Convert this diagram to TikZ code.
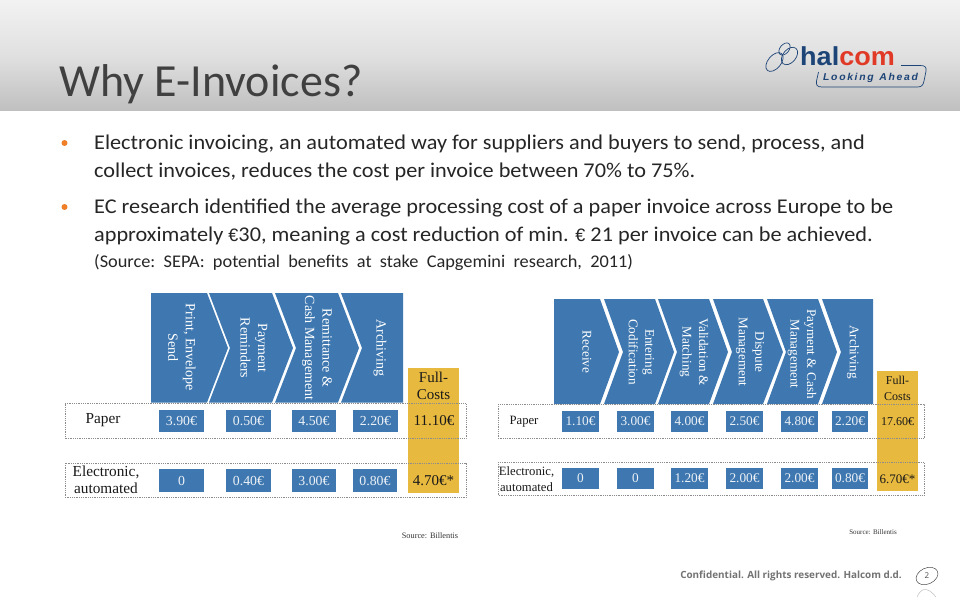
\documentclass[tikz,border=0pt]{standalone}
\usepackage{fontspec}
\setmainfont{Carlito}
\newfontfamily\bodyf[FakeStretch=1.06]{Carlito}
\newfontfamily\srcf[FakeStretch=1.03]{Carlito}
\newfontfamily\eurof{Liberation Sans}
\newfontfamily\seriff{Liberation Serif}
\newfontfamily\logof[FakeStretch=1.04]{Liberation Sans}
\newfontfamily\footf{Open Sans}
\usetikzlibrary{shapes.geometric}
\definecolor{chartblue}{HTML}{3F78B0}
\definecolor{chartgold}{HTML}{E8B93F}
\definecolor{titlegrey}{HTML}{404040}
\definecolor{bodytext}{HTML}{262626}
\definecolor{bulletor}{HTML}{F07F2A}
\definecolor{logoblue}{HTML}{1D4477}
\definecolor{logored}{HTML}{E03A26}
\tikzset{
 x=1pt,y=-1pt,
 bodyline/.style={anchor=base west,inner sep=0pt,text=bodytext,font=\bodyf\fontsize{21}{24}\selectfont},
 bulletdot/.style={circle,fill=bulletor,minimum size=6pt,inner sep=0pt},
 chev/.style={fill=chartblue,draw=none},
 chevlabel/.style={rotate=-90,text=white,align=center,font=\seriff\fontsize{14}{17.5}\selectfont,inner sep=0pt},
 chevlabelb/.style={rotate=-90,text=white,align=center,font=\seriff\fontsize{13.2}{16.5}\selectfont,inner sep=0pt},
 rowbox/.style={draw=black!45,densely dotted,line width=.8pt},
 val/.style={fill=chartblue,text=white!90!chartblue,inner sep=0pt,font=\seriff\fontsize{13.8}{15}\selectfont},
 valb/.style={fill=chartblue,text=white!90!chartblue,inner sep=0pt,font=\seriff\fontsize{13.3}{15}\selectfont},
 rowlabel/.style={text=black!90,align=center,inner sep=0pt,font=\seriff\fontsize{15.3}{17}\selectfont},
 rowlabelb/.style={text=black!90,align=center,inner sep=0pt,font=\seriff\fontsize{12.7}{16}\selectfont},
 goldtxt/.style={text=black!90,align=center,inner sep=0pt,font=\seriff\fontsize{15}{17}\selectfont},
 goldtxtb/.style={text=black!90,align=center,inner sep=0pt,font=\seriff\fontsize{12}{16}\selectfont},
 sourcetxt/.style={text=black!80,inner sep=0pt,font=\seriff\fontsize{8.3}{9}\selectfont},
 logoring/.style={draw=logoblue,line width=.7pt},
}
\newcommand{\chevshape}[7]{\fill[chev] (#1,#5) -- (#2,#5) -- (#3,#7) -- (#2,#6) -- (#1,#6) -- (#4,#7) -- cycle;}
\begin{document}
\begin{tikzpicture}
\useasboundingbox (0,0) rectangle (960,600);
\fill[white] (0,0) rectangle (960,600);
\shade[top color=black!5,bottom color=black!25,middle color=black!12] (0,0) rectangle (960,110.5);
\node[anchor=base west,inner sep=0pt,text=titlegrey,font=\fontsize{46}{50}\selectfont] (title) at (59,96.5) {Why E-Invoices?};
% logo
\draw[logoring,rotate around={50:(774.5,62)}] (774.5,62) ellipse [x radius=11,y radius=6.5];
\draw[logoring,rotate around={50:(784.5,49)}] (784.5,49) ellipse [x radius=7,y radius=4.5];
\draw[logoring,rotate around={50:(789.5,56)}] (789.5,56) ellipse [x radius=10,y radius=6.5];
\node[anchor=base west,inner sep=0pt,font=\logof\bfseries\fontsize{26}{28}\selectfont] (hal) at (800,65.7) {\textcolor{logoblue}{hal}\textcolor{logored}{com}};
\draw[logoblue,line width=.7pt] (901,65.5) -- (920,65.5) .. controls (925,65.5) and (926.5,67) .. (926,71) -- (924,81) .. controls (923,86) and (921,87) .. (917,87) -- (822,87) .. controls (817,87) and (816,85) .. (816.5,81) -- (818.5,72);
\node[anchor=base west,inner sep=0pt,text=logoblue,font=\logof\bfseries\itshape\fontsize{10}{12}\selectfont] (tag) at (823,80.5) {L\,o\,o\,k\,i\,n\,g\ \ A\,h\,e\,a\,d};
% bullets
\node[bulletdot] (b1) at (64.5,143) {};
\node[bulletdot] (b2) at (64.5,207) {};
\node[bodyline] (l1) at (94,149) {Electronic invoicing, an automated way for suppliers and buyers to send, process, and};
\node[bodyline] (l2) at (94,177) {collect invoices, reduces the cost per invoice between 70\% to 75\%.};
\node[bodyline] (l3) at (94,213) {EC research identified the average processing cost of a paper invoice across Europe to be};
\node[bodyline] (l4) at (94,241) {approximately {\eurof\fontsize{18}{24}\selectfont €}30, meaning a cost reduction of min. {\eurof\fontsize{18}{24}\selectfont €} 21 per invoice can be achieved.};
\node[bodyline,font=\srcf\fontsize{17.8}{20}\selectfont] (l5) at (94,267) {(Source:\ \ SEPA:\ \ potential\ \ benefits\ \ at\ \ stake\ \ Capgemini\ \ research,\ \ 2011)};
% left chart
\chevshape{151}{207}{228}{151}{293}{402.5}{348}
\chevshape{209}{272}{293}{230}{293}{402.5}{348}
\chevshape{275}{338}{359}{296}{293}{402.5}{348}
\chevshape{341}{403}{403}{362}{293}{402.5}{348}
\fill[chartgold] (408,368) rectangle (459,493);
\draw[rowbox] (65,403.5) rectangle (466,438.5);
\draw[rowbox] (65,463) rectangle (466,497.5);
\node[chevlabel] (p1) at (182,347.5) {Print, Envelope\\Send};
\node[chevlabel] (p2) at (254,348) {Payment\\Reminders};
\node[chevlabel] (p3) at (317,348) {Remittance \&\\Cash Management};
\node[chevlabel] (p4) at (380,348) {Archiving};
\node[goldtxt] (fc1) at (433.5,386) {Full-\\Costs};
\node[rowlabel] (paper1) at (103,420.5) {Paper};
\node[rowlabel] (elec1) at (106,479.5) {Electronic,\\automated};
\node[val,minimum width=45pt,minimum height=22pt] (v11) at (181.5,421) {3.90€};
\node[val,minimum width=45pt,minimum height=22pt] (v12) at (248.5,421) {0.50€};
\node[val,minimum width=44pt,minimum height=22pt] (v13) at (314,421) {4.50€};
\node[val,minimum width=45pt,minimum height=22pt] (v14) at (375.5,421) {2.20€};
\node[goldtxt] (t11) at (434,421) {11.10€};
\node[val,minimum width=45pt,minimum height=23pt] (v21) at (181.5,480.5) {0};
\node[val,minimum width=45pt,minimum height=23pt] (v22) at (248.5,480.5) {0.40€};
\node[val,minimum width=44pt,minimum height=23pt] (v23) at (314,480.5) {3.00€};
\node[val,minimum width=44pt,minimum height=23pt] (v24) at (375,480.5) {0.80€};
\node[goldtxt] (t12) at (433.5,481) {4.70€*};
\node[sourcetxt] (s1) at (430,536) {Source: Billentis};
% right chart
\chevshape{554}{600}{619}{554}{299}{404}{352}
\chevshape{604}{655}{674}{623}{299}{404}{352}
\chevshape{658}{709}{728}{677}{299}{404}{352}
\chevshape{713}{763}{783}{732}{299}{404}{352}
\chevshape{767}{818}{837}{786}{299}{404}{352}
\chevshape{822}{873}{873}{841}{299}{404}{352}
\fill[chartgold] (877,371) rectangle (918,491);
\draw[rowbox] (498,404) rectangle (924,438.5);
\draw[rowbox] (498,462) rectangle (924,495.5);
\node[chevlabelb] (q1) at (587,352) {Receive};
\node[chevlabelb] (q2) at (641.5,352) {Entering\\Codification};
\node[chevlabelb] (q3) at (694,352) {Validation \&\\Matching};
\node[chevlabelb] (q4) at (750,352) {Dispute\\Management};
\node[chevlabelb] (q5) at (802,354) {Payment \& Cash\\Management};
\node[chevlabelb] (q6) at (853,352) {Archiving};
\node[goldtxtb] (fc2) at (897.5,388) {Full-\\Costs};
\node[rowlabelb] (paper2) at (524,421.5) {Paper};
\node[rowlabelb] (elec2) at (526.5,479.5) {Electronic,\\automated};
\node[valb,minimum width=37pt,minimum height=21pt] (w11) at (580.5,421.5) {1.10€};
\node[valb,minimum width=37pt,minimum height=21pt] (w12) at (635.5,421.5) {3.00€};
\node[valb,minimum width=37pt,minimum height=21pt] (w13) at (689.5,421.5) {4.00€};
\node[valb,minimum width=37pt,minimum height=21pt] (w14) at (744.5,421.5) {2.50€};
\node[valb,minimum width=37pt,minimum height=21pt] (w15) at (799.5,421.5) {4.80€};
\node[valb,minimum width=36pt,minimum height=21pt] (w16) at (850,421.5) {2.20€};
\node[goldtxtb] (t21) at (897.5,422) {17.60€};
\node[valb,minimum width=37pt,minimum height=21pt] (w21) at (580.5,478.5) {0};
\node[valb,minimum width=37pt,minimum height=21pt] (w22) at (635.5,478.5) {0};
\node[valb,minimum width=37pt,minimum height=21pt] (w23) at (689.5,478.5) {1.20€};
\node[valb,minimum width=37pt,minimum height=21pt] (w24) at (744.5,478.5) {2.00€};
\node[valb,minimum width=37pt,minimum height=21pt] (w25) at (799.5,478.5) {2.00€};
\node[valb,minimum width=36pt,minimum height=21pt] (w26) at (850,478.5) {0.80€};
\node[goldtxtb,font=\seriff\fontsize{13}{16}\selectfont] (t22) at (897.5,479.5) {6.70€*};
\node[sourcetxt,font=\seriff\fontsize{7}{8}\selectfont] (s2) at (873,532) {Source: Billentis};
% footer
\node[anchor=east,inner sep=0pt,text=black!55,font=\footf\bfseries\fontsize{9.9}{12}\selectfont] (foot) at (902,575.5) {Confidential. All rights reserved. Halcom d.d.};
\node[ellipse,draw=black!70,line width=.5pt,minimum width=23pt,minimum height=16pt,inner sep=0pt,rotate=25,font=\footf\fontsize{8}{9}\selectfont,text=black!70] (pg) at (927,576) {\rotatebox{-25}{2}};
\draw[black!25,line width=.5pt] (917,597) .. controls (921,588) and (927,586) .. (936,597);
\end{tikzpicture}
\end{document}
